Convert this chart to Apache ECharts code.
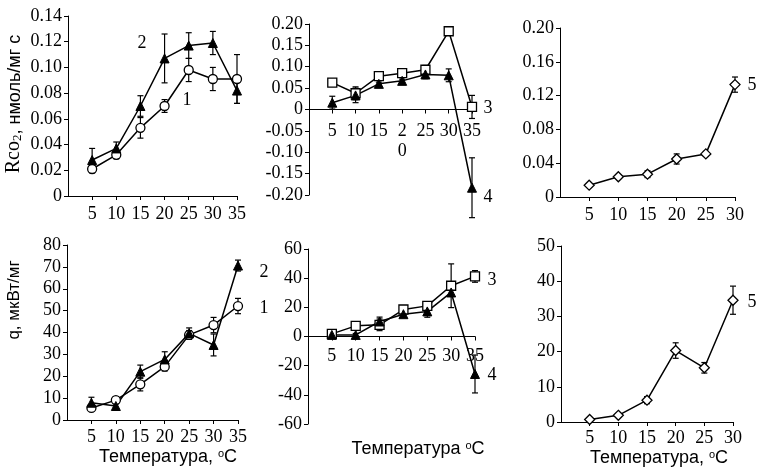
<!DOCTYPE html>
<html><head><meta charset="utf-8">
<script src="https://cdn.jsdelivr.net/npm/echarts@6/dist/echarts.min.js"></script>
<style>html,body{margin:0;padding:0;background:#fff}#c{width:758px;height:469px}</style>
</head><body><div id="c"></div>
<script>
// ---- data ----
const temps35 = [5, 10, 15, 20, 25, 30, 35];
const temps30 = [5, 10, 15, 20, 25, 30];

// Panel A: Rco2, series 1 (open circles) and 2 (filled triangles)
const rco2_s1 = [0.021, 0.032, 0.053, 0.070, 0.098, 0.091, 0.091];
const rco2_s1_err = [0.003, 0.003, 0.008, 0.005, 0.009, 0.009, 0.019];
const rco2_s2 = [0.028, 0.037, 0.070, 0.107, 0.117, 0.119, 0.082];
const rco2_s2_err = [0.009, 0.005, 0.008, 0.019, 0.010, 0.009, 0.010];

// Panel B: Rco2, series 3 (open squares) and 4 (filled triangles)
const rco2_s3 = [0.063, 0.038, 0.078, 0.085, 0.093, 0.183, 0.006];
const rco2_s3_err = [0.006, 0.015, 0.005, 0.005, 0.010, 0.004, 0.027];
const rco2_s4 = [0.016, 0.033, 0.060, 0.067, 0.082, 0.080, -0.183];
const rco2_s4_err = [0.015, 0.017, 0.004, 0.004, 0.010, 0.015, 0.070];

// Panel C: Rco2, series 5 (open diamonds)
const rco2_s5 = [0.014, 0.024, 0.027, 0.045, 0.051, 0.133];
const rco2_s5_err = [0.002, 0.002, 0.004, 0.006, 0.003, 0.009];

// Panel D: q, series 1 and 2
const q_s1 = [5.5, 9.1, 16.3, 24.4, 38.9, 43.4, 52.1];
const q_s1_err = [1.5, 1.5, 3.0, 2.0, 2.0, 3.5, 3.5];
const q_s2 = [7.9, 6.4, 22.1, 27.7, 39.6, 34.3, 70.6];
const q_s2_err = [2.5, 1.0, 3.0, 3.5, 2.5, 5.0, 2.5];

// Panel E: q, series 3 and 4
const q_s3 = [1.8, 7.3, 8.0, 18.5, 21.0, 34.8, 41.2];
const q_s3_err = [1.0, 1.0, 4.0, 2.0, 2.0, 15.0, 4.0];
const q_s4 = [1.1, 1.1, 10.3, 15.3, 17.2, 30.2, -25.7];
const q_s4_err = [1.0, 1.0, 3.0, 1.5, 4.0, 2.0, 13.0];

// Panel F: q, series 5
const q_s5 = [0.7, 1.9, 6.2, 20.3, 15.4, 34.6];
const q_s5_err = [0.5, 0.5, 1.0, 2.2, 1.5, 4.0];

// tick labels
const xTickLabelsTopMid = {5: '5', 10: '10', 15: '15', 20: '2\n0', 25: '25', 30: '30', 35: '35'};
const xTitleComma = 'Температура, ';
const xTitleNoComma = 'Температура ';
const yTitleTop = ', нмоль/мг с';
const yTitleBottom = 'q, мкВт/мг';

// ---- layout ----
const SERIF = 'Liberation Serif';
const SANS = 'Liberation Sans';
const grids = [
  {left: 68, top: 16, width: 169, height: 180},
  {left: 309, top: 24, width: 163, height: 171},
  {left: 560, top: 28, width: 175, height: 169},
  {left: 67, top: 245, width: 171, height: 175},
  {left: 308, top: 249, width: 167, height: 175},
  {left: 561, top: 246, width: 172, height: 176}
];
const yRanges = [[0, 0.14, 0.02], [-0.2, 0.2, 0.05], [0, 0.2, 0.04], [0, 80, 10], [-60, 60, 20], [0, 50, 10]];

function fmtDec(v) { return Math.abs(v) < 1e-9 ? '0' : v.toFixed(2); }
function fmtInt(v) { return Math.abs(v) < 1e-9 ? '0' : String(Math.round(v)); }

const axisCommon = {
  axisLine: {show: true, onZero: false, lineStyle: {color: '#000', width: 1}},
  axisTick: {show: true, inside: false, length: 4, lineStyle: {color: '#000', width: 1}},
  splitLine: {show: false}
};

// offset that puts the x axis at y = 0 of its grid (layout only)
function zeroOffset(gi) {
  const r = yRanges[gi];
  if (r[0] >= 0) return 0;
  return -grids[gi].height * (0 - r[0]) / (r[1] - r[0]);
}

function xAxisDef(gi, max, margin, labels) {
  return Object.assign({}, axisCommon, {
    type: 'value', gridIndex: gi, min: 0, max: max, interval: 5,
    position: 'bottom', offset: zeroOffset(gi),
    axisLabel: {
      color: '#000', fontFamily: SERIF, fontSize: 18, margin: margin, lineHeight: 20,
      showMinLabel: false,
      formatter: v => (v === 0 ? '' : (labels ? labels[v] : String(v)))
    }
  });
}
function yAxisDef(gi, fmt) {
  const r = yRanges[gi];
  return Object.assign({}, axisCommon, {
    type: 'value', gridIndex: gi, min: r[0], max: r[1], interval: r[2],
    axisLabel: {color: '#000', fontFamily: SERIF, fontSize: 18, margin: 6, formatter: fmt}
  });
}

const xAxes = [
  xAxisDef(0, 35, 8),
  xAxisDef(1, 35, 12, xTickLabelsTopMid),
  xAxisDef(2, 30, 8),
  xAxisDef(3, 35, 7),
  xAxisDef(4, 35, 10),
  xAxisDef(5, 30, 6)
];
const yAxes = [
  yAxisDef(0, fmtDec), yAxisDef(1, fmtDec), yAxisDef(2, fmtDec),
  yAxisDef(3, fmtInt), yAxisDef(4, fmtInt), yAxisDef(5, fmtInt)
];

const markers = {
  circle: {symbol: 'circle', symbolSize: 9, itemStyle: {color: '#fff', borderColor: '#000', borderWidth: 1.3}},
  tri: {symbol: 'triangle', symbolSize: 9, itemStyle: {color: '#000', borderColor: '#000', borderWidth: 1}},
  square: {symbol: 'rect', symbolSize: 9, itemStyle: {color: '#fff', borderColor: '#000', borderWidth: 1.3}},
  diamond: {symbol: 'diamond', symbolSize: 10, itemStyle: {color: '#fff', borderColor: '#000', borderWidth: 1.3}}
};

function lineSeries(gi, xs, ys, mk) {
  return Object.assign({
    type: 'line', xAxisIndex: gi, yAxisIndex: gi,
    data: xs.map((x, i) => [x, ys[i]]),
    showAllSymbol: true, animation: false, z: 3,
    lineStyle: {color: '#000', width: 1.5}
  }, markers[mk]);
}
function errSeries(gi, xs, ys, es) {
  return {
    type: 'custom', xAxisIndex: gi, yAxisIndex: gi, animation: false, z: 2, clip: false,
    data: xs.map((x, i) => [x, ys[i], es[i]]),
    encode: {x: 0, y: 1},
    renderItem: function (params, api) {
      const x = api.value(0), y = api.value(1), e = api.value(2);
      const t = api.coord([x, y + e]);
      const b = api.coord([x, y - e]);
      const hw = 3;
      const st = {stroke: '#000', lineWidth: 1.2};
      return {type: 'group', children: [
        {type: 'line', shape: {x1: t[0], y1: t[1], x2: b[0], y2: b[1]}, style: st},
        {type: 'line', shape: {x1: t[0] - hw, y1: t[1], x2: t[0] + hw, y2: t[1]}, style: st},
        {type: 'line', shape: {x1: b[0] - hw, y1: b[1], x2: b[0] + hw, y2: b[1]}, style: st}
      ]};
    }
  };
}

const series = [
  errSeries(0, temps35, rco2_s1, rco2_s1_err), lineSeries(0, temps35, rco2_s1, 'circle'),
  errSeries(0, temps35, rco2_s2, rco2_s2_err), lineSeries(0, temps35, rco2_s2, 'tri'),
  errSeries(1, temps35, rco2_s3, rco2_s3_err), lineSeries(1, temps35, rco2_s3, 'square'),
  errSeries(1, temps35, rco2_s4, rco2_s4_err), lineSeries(1, temps35, rco2_s4, 'tri'),
  errSeries(2, temps30, rco2_s5, rco2_s5_err), lineSeries(2, temps30, rco2_s5, 'diamond'),
  errSeries(3, temps35, q_s1, q_s1_err), lineSeries(3, temps35, q_s1, 'circle'),
  errSeries(3, temps35, q_s2, q_s2_err), lineSeries(3, temps35, q_s2, 'tri'),
  errSeries(4, temps35, q_s3, q_s3_err), lineSeries(4, temps35, q_s3, 'square'),
  errSeries(4, temps35, q_s4, q_s4_err), lineSeries(4, temps35, q_s4, 'tri'),
  errSeries(5, temps30, q_s5, q_s5_err), lineSeries(5, temps30, q_s5, 'diamond')
];

function numLabel(txt, x, y) {
  return {type: 'text', x: x, y: y, silent: true,
    style: {text: txt, fill: '#000', font: '18px "' + SERIF + '"', align: 'center', verticalAlign: 'middle'}};
}
const supRich = {
  m: {fontFamily: SANS, fontSize: 18, color: '#000', verticalAlign: 'bottom'},
  o: {fontFamily: SANS, fontSize: 11, color: '#000', verticalAlign: 'top'}
};
function xTitle(prefix, cx, cy) {
  return {type: 'text', x: cx, y: cy, silent: true,
    style: {text: '{m|' + prefix + '}{o|o}{m|C}', rich: supRich, align: 'center', verticalAlign: 'middle'}};
}

const graphics = [
  numLabel('2', 142, 43), numLabel('1', 187, 100),
  numLabel('3', 488, 108), numLabel('4', 488, 197),
  numLabel('5', 752, 85),
  numLabel('2', 264, 272), numLabel('1', 264, 308),
  numLabel('3', 492, 280), numLabel('4', 492, 375),
  numLabel('5', 752, 302),
  xTitle(xTitleComma, 168, 457),
  xTitle(xTitleNoComma, 418, 449),
  xTitle(xTitleComma, 659, 458),
  {type: 'text', x: 14, y: 104, rotation: Math.PI / 2, silent: true,
    style: {text: '{r|Rco}{s|2}{t|' + yTitleTop + '}', align: 'center', verticalAlign: 'middle',
      rich: {
        r: {fontFamily: SERIF, fontSize: 20, color: '#000', verticalAlign: 'bottom'},
        s: {fontFamily: SERIF, fontSize: 13, color: '#000', verticalAlign: 'bottom'},
        t: {fontFamily: SANS, fontSize: 18, color: '#000', verticalAlign: 'bottom'}
      }}},
  {type: 'text', x: 14, y: 300, rotation: Math.PI / 2, silent: true,
    style: {text: yTitleBottom, fill: '#000', font: '17px "' + SANS + '"', align: 'center', verticalAlign: 'middle'}}
];

const chart = echarts.init(document.getElementById('c'), null, {renderer: 'canvas'});
chart.setOption({
  backgroundColor: '#fff',
  animation: false,
  grid: grids,
  xAxis: xAxes,
  yAxis: yAxes,
  series: series,
  graphic: graphics
});
</script>
</body></html>
